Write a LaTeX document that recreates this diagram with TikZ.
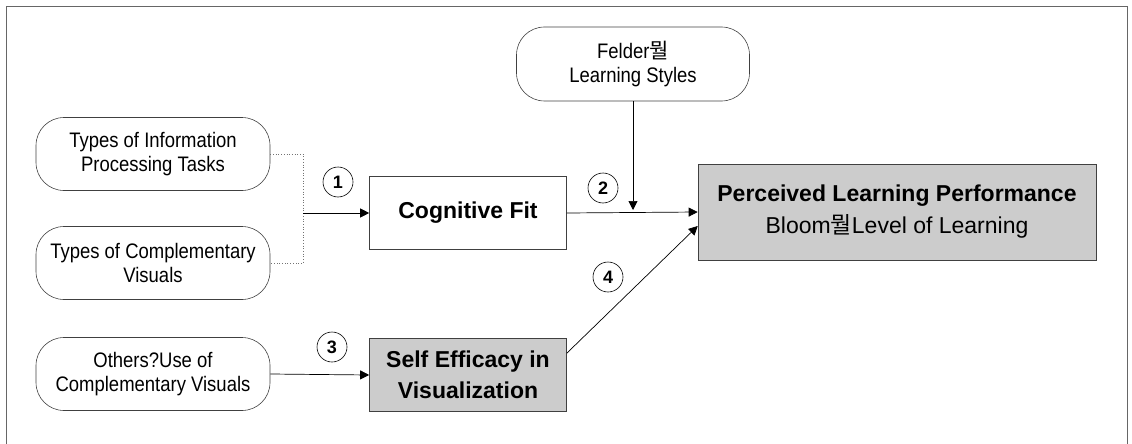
\documentclass[tikz,border=0pt]{standalone}
\usepackage{fontspec}
\setmainfont{Liberation Sans}
\newfontfamily\ovalfont[FakeStretch=0.88]{Liberation Sans}
\newfontfamily\cjk{Noto Sans CJK KR}
\usetikzlibrary{arrows.meta, positioning}

\tikzset{
  oval/.style={draw=black!75, line width=0.6pt, rounded corners=28pt, minimum width=234pt, minimum height=73pt, align=center, font=\ovalfont\fontsize{21}{24}\selectfont},
  factor/.style={draw=black!75, line width=0.6pt, minimum width=197pt, minimum height=73pt, align=center, font=\fontsize{23}{31}\selectfont\bfseries},
  shaded/.style={fill=black!20},
  num/.style={draw, circle, line width=0.6pt, minimum size=30pt, inner sep=0pt, font=\fontsize{18}{18}\selectfont\bfseries},
  link/.style={line width=0.7pt, -{Triangle[length=9pt,width=9pt]}},
}

\begin{document}
\begin{tikzpicture}[x=1pt, y=-1pt]
    \useasboundingbox (0,0) rectangle (1132,444);
    % Frame
    \draw[black!60, line width=0.8pt] (6,444) -- (6,6) -- (1127,6) -- (1127,444);

    % Antecedents
    \node[oval] (tasks) at (153,154) {Types of Information\\Processing Tasks};
    \node[oval] (visuals) at (153,263) {Types of Complementary\\Visuals};
    \node[oval] (others) at (153,374) {Others?Use of\\Complementary Visuals};
    \node[oval, minimum width=233pt, minimum height=74pt] (felder) at (633,64) {Felder{\cjk 뭘}\\Learning Styles};

    % Constructs
    \node[factor] (fit) at (468,213) {Cognitive Fit};
    \node[factor, shaded] (efficacy) at (468,375) {Self Efficacy in\\Visualization};
    \node[factor, shaded, minimum width=398pt, minimum height=96pt, font=\fontsize{23}{32}\selectfont] (perf) at (897,212)
      {\textbf{Perceived Learning Performance}\\Bloom{\cjk 뭘}Level of Learning};

    % Path numbers
    \node[num] (n1) at (338,182) {1};
    \node[num] (n2) at (603,188) {2};
    \node[num] (n3) at (332,347) {3};
    \node[num] (n4) at (608,277) {4};

    % Connectors
    \coordinate (join) at (303,213);
    \coordinate (meet) at (633,210);
    \draw[black!55, dotted, line width=0.7pt] (tasks.east) -| (join) |- (visuals.east);
    \draw[link] (join) -- (fit.west);
    \draw[link] (fit.east) -- (perf.west);
    \draw[link] (felder.south) -- (meet);
    \draw[link] (others.east) -- (efficacy.west);
    \draw[link] ([yshift=-15pt]efficacy.north east) -- ([yshift=-14pt]perf.west);
\end{tikzpicture}
\end{document}
